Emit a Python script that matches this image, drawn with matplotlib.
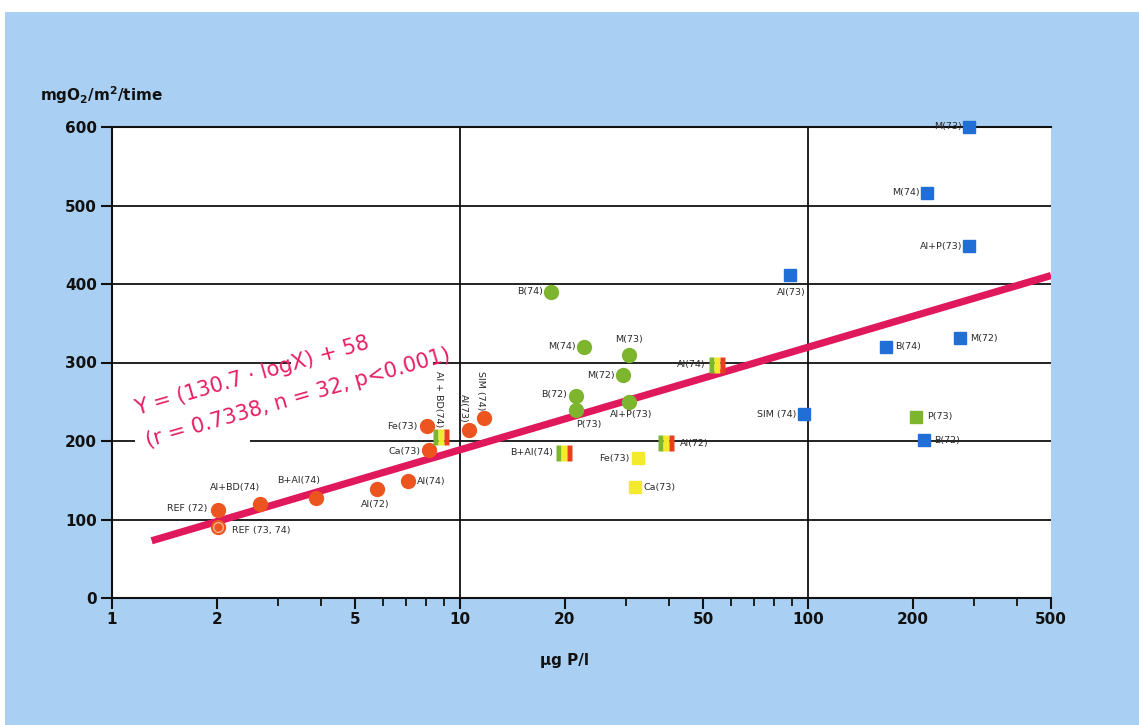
import numpy as np
import matplotlib
matplotlib.use('Agg')
import matplotlib.pyplot as plt
from matplotlib.path import Path
from matplotlib.patches import Rectangle

# ---------------- data ----------------
orange_x = [2.02, 2.02, 2.67, 3.85, 5.77, 7.08, 8.03, 8.15, 10.6, 11.7]
orange_y = [112, 90, 120, 127, 139, 149, 219, 189, 214, 229]
orange_labels = ['REF (72)', 'REF (73, 74)', 'Al+BD(74)', 'B+Al(74)', 'Al(72)',
                 'Al(74)', 'Fe(73)', 'Ca(73)', 'Al(73)', 'SIM (74)']

green_x = [18.3, 22.8, 30.7, 29.5, 21.6, 21.6, 30.7]
green_y = [390, 320, 310, 284, 257, 240, 250]
green_labels = ['B(74)', 'M(74)', 'M(73)', 'M(72)', 'B(72)', 'P(73)', 'Al+P(73)']

mixed_x = [8.82, 19.9, 54.7, 39.2]
mixed_y = [205, 185, 297, 197]
mixed_labels = ['Al + BD(74)', 'B+Al(74)', 'Al(74)', 'Al(72)']

yellow_x = [32.4, 31.9]
yellow_y = [178, 141]
yellow_labels = ['Fe(73)', 'Ca(73)']

blue_x = [291, 220, 291, 88.7, 274, 168, 97.3, 216]
blue_y = [600, 516, 448, 411, 331, 320, 234, 201]
blue_labels = ['M(73)', 'M(74)', 'Al+P(73)', 'Al(73)', 'M(72)', 'B(74)', 'SIM (74)', 'B(72)']

greensq_x = [205]
greensq_y = [231]
greensq_labels = ['P(73)']

fit_slope = 130.7
fit_intercept = 58

x_major = [1, 2, 5, 10, 20, 50, 100, 200, 500]
x_minor = [3, 4, 6, 7, 8, 9, 30, 40, 60, 70, 80, 90, 300, 400]
y_ticks = [0, 100, 200, 300, 400, 500, 600]

# ---------------- label styles (offset pt, ha, va, rotation) ----------------
orange_ls = [(-8, 1, 'right', 'center', 0), (10, -2, 'left', 'center', 0),
             (-18, 11.5, 'center', 'center', 0), (-12, 13, 'center', 'center', 0),
             (-1, -11.5, 'center', 'center', 0), (6.5, 0, 'left', 'center', 0),
             (-6.5, 0, 'right', 'center', 0), (-6, -1, 'right', 'center', 0),
             (-3.5, 5, 'center', 'bottom', -90), (-2, 6, 'center', 'bottom', -90)]
green_ls = [(-6, 0, 'right', 'center', 0), (-6, 0, 'right', 'center', 0),
            (0, 11, 'center', 'center', 0), (-6, 0, 'right', 'center', 0),
            (-6.5, 1, 'right', 'center', 0), (9, -11, 'center', 'center', 0),
            (-14, -9.5, 'left', 'center', 0)]
mixed_ls = [(-2, 7, 'center', 'bottom', -90), (-8, 0, 'right', 'center', 0),
            (-8, 0, 'right', 'center', 0), (9.5, 0, 'left', 'center', 0)]
yellow_ls = [(-6, 0, 'right', 'center', 0), (6, 0, 'left', 'center', 0)]
blue_ls = [(-5, 0, 'right', 'center', 0), (-5, 0, 'right', 'center', 0),
           (-5, 0, 'right', 'center', 0), (1, -12, 'center', 'center', 0),
           (7, 0, 'left', 'center', 0), (6.5, 0, 'left', 'center', 0),
           (-5, 0, 'right', 'center', 0), (7, 0, 'left', 'center', 0)]
greensq_ls = [(8, 0, 'left', 'center', 0)]

C_ORANGE = '#ec5520'
C_GREEN = '#7db52e'
C_BLUE = '#1f6fd6'
C_YELLOW = '#f3ea2c'
C_RED = '#e8401e'
C_LINE = '#e0185c'
C_BG = '#a9d0f2'
C_TXT = '#2a2a2a'

fig = plt.figure(figsize=(11.39, 7.25), dpi=100)
fig.patch.set_facecolor('white')
fig.patches.append(Rectangle((5 / 1139, 0), 1, 1 - 12 / 725, transform=fig.transFigure,
                             facecolor=C_BG, edgecolor='none', zorder=-10))

ax = fig.add_axes([112 / 1139, 1 - 598 / 725, (1051 - 112) / 1139, (598 - 127) / 725])
ax.set_facecolor('white')
ax.set_xscale('log')
ax.set_xlim(1, 500)
ax.set_ylim(0, 600)

for s in ['left', 'bottom', 'top']:
    ax.spines[s].set_color('#111')
    ax.spines[s].set_linewidth(1.5)
ax.spines['right'].set_visible(False)

ax.set_yticks(y_ticks)
ax.set_yticklabels([str(v) for v in y_ticks])
ax.set_xticks(x_major)
ax.set_xticklabels([str(v) for v in x_major])
ax.set_xticks(x_minor, minor=True)
ax.xaxis.set_minor_formatter(matplotlib.ticker.NullFormatter())
ax.tick_params(axis='y', length=8, width=1.5, pad=3, labelsize=11, colors='#111')
ax.tick_params(axis='x', which='major', length=8, width=1.5, pad=2, labelsize=11, colors='#111')
ax.tick_params(axis='x', which='minor', length=6, width=1.3, colors='#111')
for lab in ax.get_xticklabels() + ax.get_yticklabels():
    lab.set_fontweight('bold')

# grid lines (with gaps where the equation sits)
gl = dict(color='#111', lw=1.3, zorder=1)
ax.hlines([100, 400, 500], 1, 500, **gl)
ax.hlines(300, 1, 3.26, **gl)
ax.hlines(300, 8.36, 500, **gl)
ax.hlines(200, 1, 1.165, **gl)
ax.hlines(200, 2.50, 500, **gl)
ax.vlines([10, 100], 0, 600, **gl)

# regression line
xf = np.logspace(np.log10(1.3), np.log10(500), 200)
ax.plot(xf, fit_slope * np.log10(xf) + fit_intercept, color=C_LINE, lw=5.2,
        solid_capstyle='butt', zorder=3)

# markers
ax.plot(orange_x, orange_y, 'o', ms=10, color=C_ORANGE, mec=C_ORANGE, zorder=5, ls='none')
ax.plot([orange_x[1]], [orange_y[1]], 'o', ms=7, mfc='none', mec='#f6b08a', mew=1, zorder=6)
ax.plot(green_x, green_y, 'o', ms=10, color=C_GREEN, zorder=5, ls='none')
ax.plot(yellow_x, yellow_y, 's', ms=8.5, color=C_YELLOW, zorder=5, ls='none')
ax.plot(blue_x, blue_y, 's', ms=8, color=C_BLUE, zorder=5, ls='none', clip_on=False)
ax.plot(greensq_x, greensq_y, 's', ms=8.5, color=C_GREEN, zorder=5, ls='none')

def stripe(x0, x1):
    return Path([(x0, -1.5), (x1, -1.5), (x1, 1.5), (x0, 1.5), (x0, -1.5)],
                [Path.MOVETO, Path.LINETO, Path.LINETO, Path.LINETO, Path.CLOSEPOLY])

for p, c in [(stripe(-1.5, -0.5), C_GREEN), (stripe(-0.5, 0.5), C_YELLOW), (stripe(0.5, 1.5), C_RED)]:
    ax.plot(mixed_x, mixed_y, marker=p, ms=11, color=c, mec='none', ls='none', zorder=5)

def labels(xs, ys, labs, styles):
    for x, y, t, (dx, dy, ha, va, rot) in zip(xs, ys, labs, styles):
        ax.annotate(t, (x, y), xytext=(dx, dy), textcoords='offset points',
                    ha=ha, va=va, rotation=rot, fontsize=6.8, color=C_TXT,
                    family='DejaVu Sans', zorder=7, annotation_clip=False)

labels(orange_x, orange_y, orange_labels, orange_ls)
labels(green_x, green_y, green_labels, green_ls)
labels(mixed_x, mixed_y, mixed_labels, mixed_ls)
labels(yellow_x, yellow_y, yellow_labels, yellow_ls)
labels(blue_x, blue_y, blue_labels, blue_ls)
labels(greensq_x, greensq_y, greensq_labels, greensq_ls)

# equation text
ax.text(1.18, 233, 'Y = (130.7 \u00b7 logX) + 58', rotation=16, rotation_mode='anchor',
        ha='left', va='baseline', fontsize=15, color='#e61e64', family='DejaVu Sans', zorder=4)
ax.text(1.27, 192, '(r = 0.7338, n = 32, p<0.001)', rotation=16, rotation_mode='anchor',
        ha='left', va='baseline', fontsize=15, color='#e61e64', family='DejaVu Sans', zorder=4)

# axis titles
fig.text(40 / 1139, 1 - 101 / 725, 'mgO$_\\mathbf{2}$/m$^\\mathbf{2}$/time', fontsize=11,
         fontweight='bold', color='#111', ha='left', va='baseline')
fig.text(565 / 1139, 1 - 661 / 725, '\u03bcg P/l', fontsize=11, fontweight='bold',
         color='#111', ha='center', va='center')

fig.savefig('out.png', dpi=100, facecolor=fig.get_facecolor())
